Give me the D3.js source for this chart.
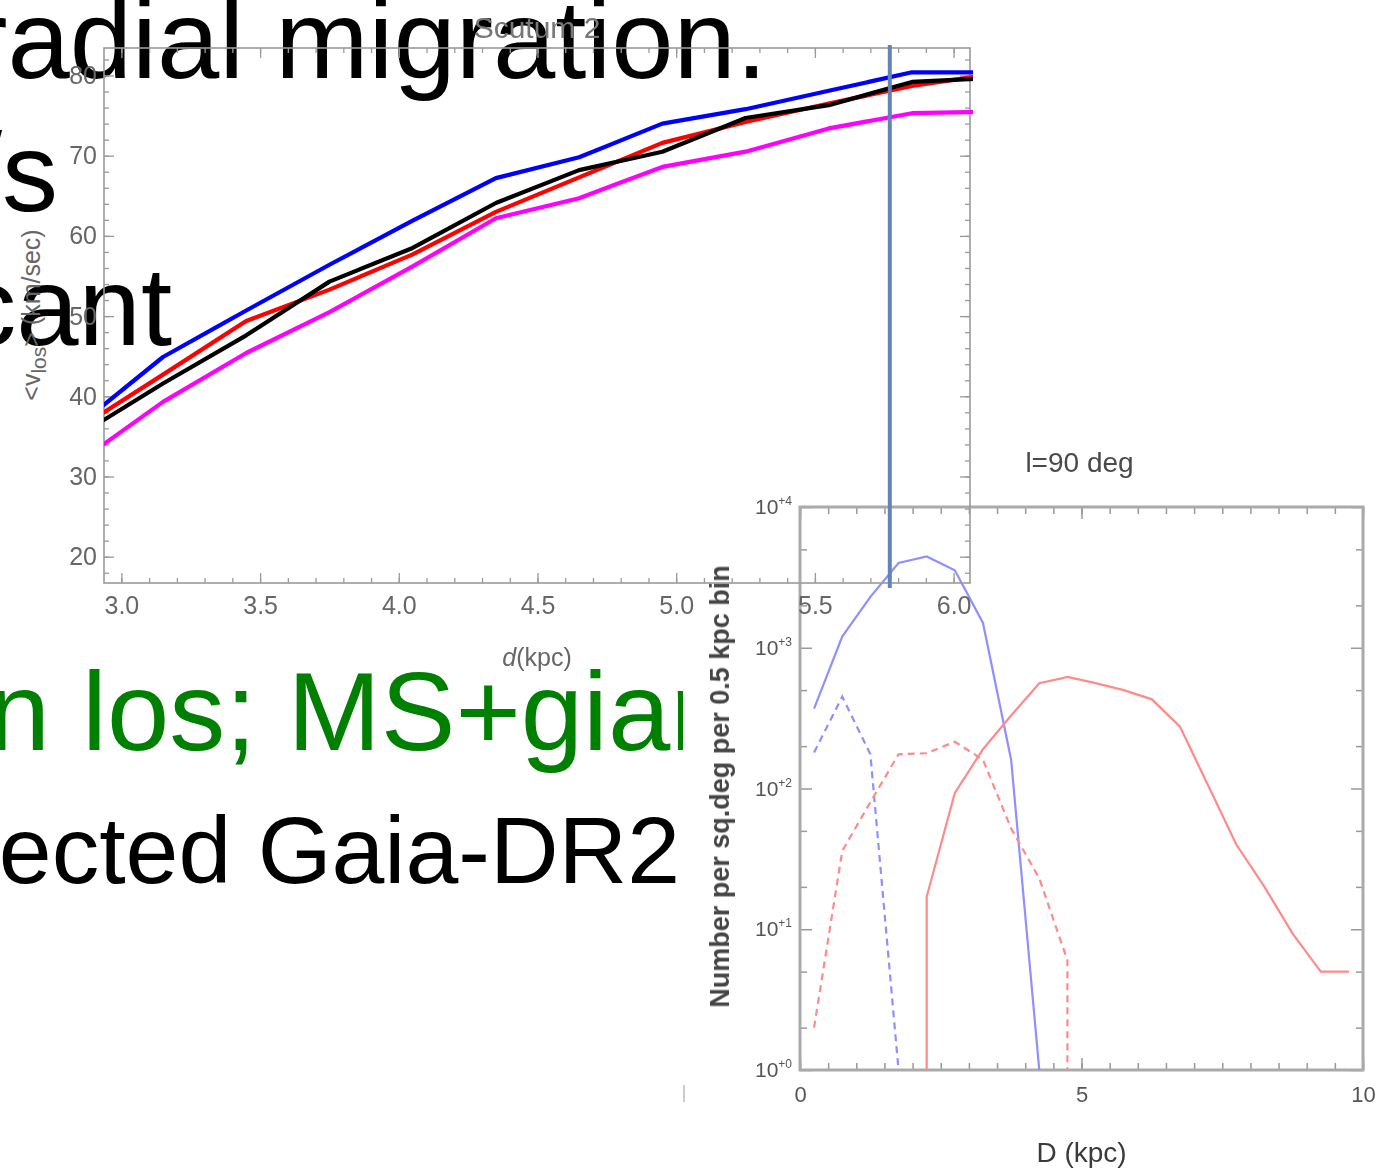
<!DOCTYPE html>
<html>
<head>
<meta charset="utf-8">
<script src="https://cdn.jsdelivr.net/npm/d3@7"></script>
<style>
body { margin: 0; background: #fff; }
svg { display: block; }
</style>
</head>
<body>
<svg id="slide" width="1381" height="1168"></svg>
<script>
// slide text fragments (the slide is shifted left, so most lines are cut)
var slideLines = ["radial migration.", "km/s", "significant", "in", "los; MS+giants", "selected Gaia-DR2"];

// Scutum 2 panel: mean line-of-sight velocity vs distance
var dKpc     = [2.85, 3.15, 3.45, 3.75, 4.05, 4.35, 4.65, 4.95, 5.25, 5.55, 5.85, 6.15];
var vBlue    = [36.5, 44.9, 50.7, 56.4, 61.9, 67.2, 69.8, 74.0, 75.8, 78.1, 80.4, 80.4];
var vRed     = [36.1, 42.7, 49.4, 53.3, 57.7, 63.0, 67.3, 71.6, 74.2, 76.5, 78.7, 80.2];
var vBlack   = [35.2, 41.6, 47.6, 54.3, 58.5, 64.1, 68.2, 70.5, 74.7, 76.3, 79.2, 79.7];
var vMagenta = [31.9, 39.3, 45.4, 50.5, 56.2, 62.2, 64.7, 68.6, 70.5, 73.4, 75.3, 75.5];
var xTicks1 = [3.0, 3.5, 4.0, 4.5, 5.0, 5.5, 6.0];
var yTicks1 = [20, 30, 40, 50, 60, 70, 80];
var markerD = 5.77;

// l=90 deg panel: star counts per 0.5 kpc bin (log scale)
var blueSolidD = [0.25, 0.75, 1.25, 1.75, 2.25, 2.75, 3.25, 3.75, 4.25];
var blueSolidN = [370, 1200, 2300, 4000, 4450, 3550, 1500, 160, 1];
var blueDashD  = [0.25, 0.75, 1.25, 1.75];
var blueDashN  = [180, 450, 175, 1];
var redSolidD  = [2.25, 2.25, 2.75, 3.25, 3.75, 4.25, 4.75, 5.25, 5.75, 6.25, 6.75, 7.25, 7.75, 8.25, 8.75, 9.25, 9.75];
var redSolidN  = [1, 17, 93, 190, 330, 560, 620, 560, 500, 430, 275, 105, 40, 20, 9.3, 5, 5];
var redDashD   = [0.25, 0.75, 1.25, 1.75, 2.25, 2.75, 3.25, 3.75, 4.25, 4.75, 4.75];
var redDashN   = [2, 36, 80, 175, 178, 215, 160, 52, 23, 6, 1];
var xTicks2 = [0, 5, 10];
var yTicks2 = [1, 10, 100, 1000, 10000];
var yMinor2 = [2, 5, 20, 50, 200, 500, 2000, 5000];

var svg = d3.select("#slide");
var FONT = "'Liberation Sans', Arial, Helvetica, sans-serif";

// ---------- slide text ----------
var slide = svg.append("g").attr("font-family", FONT);
slide.append("text").attr("x", 767).attr("y", 78).attr("text-anchor", "end")
    .attr("font-size", 112).attr("fill", "#000").text(slideLines[0]);
slide.append("text").attr("x", 58).attr("y", 211).attr("text-anchor", "end")
    .attr("font-size", 112).attr("fill", "#000").text(slideLines[1]);
slide.append("text").attr("x", 172).attr("y", 345).attr("text-anchor", "end")
    .attr("font-size", 112).attr("fill", "#000").text(slideLines[2]);
slide.append("text").attr("x", 50).attr("y", 750).attr("text-anchor", "end")
    .attr("font-size", 112).attr("fill", "#008000").text(slideLines[3]);
slide.append("text").attr("x", 82).attr("y", 750)
    .attr("font-size", 112).attr("fill", "#008000").text(slideLines[4]);
slide.append("text").attr("x", 680).attr("y", 883).attr("text-anchor", "end")
    .attr("font-size", 95).attr("fill", "#000").text(slideLines[5]);

// ---------- l=90 deg panel (pasted image, white background) ----------
var defs = svg.append("defs");
defs.append("filter").attr("id", "soft").append("feGaussianBlur").attr("stdDeviation", 0.7);

var p2 = svg.append("g").attr("font-family", FONT);
p2.append("rect").attr("x", 683).attr("y", 430).attr("width", 698).attr("height", 738).attr("fill", "#fff");
p2.append("line").attr("x1", 684).attr("x2", 684).attr("y1", 1085).attr("y2", 1102)
    .attr("stroke", "#bbb").attr("stroke-width", 1.5);

var g2 = p2.append("g").attr("filter", "url(#soft)");
var f2 = { left: 800, right: 1363, top: 507, bottom: 1070 };
var x2 = d3.scaleLinear().domain([0, 10]).range([f2.left, f2.right]);
var y2 = d3.scaleLog().domain([1, 10000]).range([f2.bottom, f2.top]);

function tickAxis(g, axis, tx, ty) {
    var a = g.append("g").attr("transform", "translate(" + tx + "," + ty + ")").call(axis);
    a.select(".domain").remove();
    return a;
}
var minorX2 = d3.range(0, 10.01, 0.5);
var tickCol2 = "#999";
[[d3.axisBottom, f2.bottom], [d3.axisTop, f2.top]].forEach(function (s) {
    tickAxis(g2, s[0](x2).tickValues(minorX2).tickFormat("").tickSizeInner(-7).tickSizeOuter(0), 0, s[1])
        .selectAll("line").attr("stroke", tickCol2).attr("stroke-width", 1.5);
    tickAxis(g2, s[0](x2).tickValues(xTicks2).tickFormat("").tickSizeInner(-12).tickSizeOuter(0), 0, s[1])
        .selectAll("line").attr("stroke", tickCol2).attr("stroke-width", 1.5);
});
[[d3.axisLeft, f2.left], [d3.axisRight, f2.right]].forEach(function (s) {
    tickAxis(g2, s[0](y2).tickValues(yMinor2).tickFormat("").tickSizeInner(-7).tickSizeOuter(0), s[1], 0)
        .selectAll("line").attr("stroke", tickCol2).attr("stroke-width", 1.5);
    tickAxis(g2, s[0](y2).tickValues(yTicks2).tickFormat("").tickSizeInner(-12).tickSizeOuter(0), s[1], 0)
        .selectAll("line").attr("stroke", tickCol2).attr("stroke-width", 1.5);
});
g2.append("rect").attr("x", f2.left).attr("y", f2.top)
    .attr("width", f2.right - f2.left).attr("height", f2.bottom - f2.top)
    .attr("fill", "none").attr("stroke", "#aaa").attr("stroke-width", 3);

// tick labels
var yl2 = tickAxis(g2, d3.axisLeft(y2).tickValues(yTicks2).tickSize(0).tickPadding(8)
    .tickFormat(function () { return ""; }), f2.left, 0);
yl2.selectAll("text").attr("font-family", FONT).attr("fill", "#555").attr("font-size", 21)
    .each(function (d) {
        var t = d3.select(this);
        t.append("tspan").text("10");
        t.append("tspan").attr("font-size", 12).attr("dy", -9)
            .text("+" + Math.round(Math.log10(d)));
    });
var xl2 = tickAxis(g2, d3.axisBottom(x2).tickValues(xTicks2).tickSize(0).tickPadding(16)
    .tickFormat(d3.format("d")), 0, f2.bottom);
xl2.selectAll("text").attr("font-family", FONT).attr("fill", "#555").attr("font-size", 22);

g2.append("text").attr("x", (f2.left + f2.right) / 2 - 2).attr("y", 472).attr("text-anchor", "middle")
    .attr("font-size", 28).attr("fill", "#4a4a4a").text("l=90 deg");
g2.append("text").attr("x", x2(5)).attr("y", 1162).attr("text-anchor", "middle")
    .attr("font-size", 28).attr("fill", "#3a3a3a").text("D (kpc)");
g2.append("text").attr("transform", "translate(729," + ((f2.top + f2.bottom) / 2 - 2) + ") rotate(-90)")
    .attr("text-anchor", "middle").attr("font-size", 27).attr("font-weight", "bold").attr("fill", "#444")
    .text("Number per sq.deg per 0.5 kpc bin");

var line2 = d3.line().x(function (d) { return x2(d[0]); }).y(function (d) { return y2(d[1]); });
var logSeries = [
    { d: blueSolidD, n: blueSolidN, color: "#8f8fff", dash: null },
    { d: blueDashD, n: blueDashN, color: "#8f8fff", dash: "7,5" },
    { d: redSolidD, n: redSolidN, color: "#ff8a8a", dash: null },
    { d: redDashD, n: redDashN, color: "#ff8a8a", dash: "7,5" }
];
logSeries.forEach(function (s) {
    g2.append("path").datum(d3.zip(s.d, s.n)).attr("d", line2)
        .attr("fill", "none").attr("stroke", s.color).attr("stroke-width", 2.2)
        .attr("stroke-dasharray", s.dash);
});

// ---------- Scutum 2 panel (transparent, on top) ----------
var p1 = svg.append("g").attr("font-family", FONT);
var f1 = { left: 104, right: 970, top: 48, bottom: 583 };
var x1 = d3.scaleLinear().domain([3, 6]).range([121.4, 953.6]);
var y1 = d3.scaleLinear().domain([20, 80]).range([556.7, 75.5]);
var frameCol = "#9a9a9a";

var minorX1 = d3.range(30, 61, 1).map(function (v) { return v / 10; });
var minorY1 = d3.range(18, 83, 2);

[[d3.axisBottom, f1.bottom], [d3.axisTop, f1.top]].forEach(function (s) {
    tickAxis(p1, s[0](x1).tickValues(minorX1).tickFormat("").tickSizeInner(-5).tickSizeOuter(0), 0, s[1])
        .selectAll("line").attr("stroke", frameCol).attr("stroke-width", 1.3);
    tickAxis(p1, s[0](x1).tickValues(xTicks1).tickFormat("").tickSizeInner(-10).tickSizeOuter(0), 0, s[1])
        .selectAll("line").attr("stroke", frameCol).attr("stroke-width", 1.3);
});
[[d3.axisLeft, f1.left], [d3.axisRight, f1.right]].forEach(function (s) {
    tickAxis(p1, s[0](y1).tickValues(minorY1).tickFormat("").tickSizeInner(-5).tickSizeOuter(0), s[1], 0)
        .selectAll("line").attr("stroke", frameCol).attr("stroke-width", 1.3);
    tickAxis(p1, s[0](y1).tickValues(yTicks1).tickFormat("").tickSizeInner(-10).tickSizeOuter(0), s[1], 0)
        .selectAll("line").attr("stroke", frameCol).attr("stroke-width", 1.3);
});
p1.append("rect").attr("x", f1.left).attr("y", f1.top)
    .attr("width", f1.right - f1.left).attr("height", f1.bottom - f1.top)
    .attr("fill", "none").attr("stroke", frameCol).attr("stroke-width", 1.6);

var xl1 = tickAxis(p1, d3.axisBottom(x1).tickValues(xTicks1).tickSize(0).tickPadding(13)
    .tickFormat(d3.format(".1f")), 0, f1.bottom);
xl1.selectAll("text").attr("font-family", FONT).attr("fill", "#666").attr("font-size", 25);
var yl1 = tickAxis(p1, d3.axisLeft(y1).tickValues(yTicks1).tickSize(0).tickPadding(7)
    .tickFormat(d3.format("d")), f1.left, 0);
yl1.selectAll("text").attr("font-family", FONT).attr("fill", "#666").attr("font-size", 25);

p1.append("text").attr("x", 537).attr("y", 38).attr("text-anchor", "middle")
    .attr("font-size", 30).attr("fill", "#777").text("Scutum 2");
var xt = p1.append("text").attr("x", 537).attr("y", 666).attr("text-anchor", "middle")
    .attr("font-size", 25).attr("fill", "#666");
xt.append("tspan").attr("font-style", "italic").text("d");
xt.append("tspan").text("(kpc)");
var yt = p1.append("text").attr("transform", "translate(40,315) rotate(-90)")
    .attr("text-anchor", "middle").attr("font-size", 25).attr("fill", "#666");
yt.append("tspan").text("<v");
yt.append("tspan").attr("font-size", 21).attr("dy", 6).text("los");
yt.append("tspan").attr("dy", -6).text("> (km/sec)");

defs.append("clipPath").attr("id", "clip1").append("rect")
    .attr("x", f1.left).attr("y", f1.top).attr("width", f1.right - f1.left + 3).attr("height", f1.bottom - f1.top);
var line1 = d3.line().x(function (d) { return x1(d[0]); }).y(function (d) { return y1(d[1]); });
var velSeries = [
    { v: vMagenta, color: "#ff00ff" },
    { v: vRed, color: "#ff0000" },
    { v: vBlack, color: "#000000" },
    { v: vBlue, color: "#0000ff" }
];
var lines1 = p1.append("g").attr("clip-path", "url(#clip1)");
velSeries.forEach(function (s) {
    lines1.append("path").datum(d3.zip(dKpc, s.v)).attr("d", line1)
        .attr("fill", "none").attr("stroke", s.color).attr("stroke-width", 4.2)
        .attr("stroke-linejoin", "round");
});

// vertical marker line
svg.append("line").attr("x1", x1(markerD)).attr("x2", x1(markerD))
    .attr("y1", f1.top - 3).attr("y2", f1.bottom + 5)
    .attr("stroke", "#6283b9").attr("stroke-width", 4);
</script>
</body>
</html>
